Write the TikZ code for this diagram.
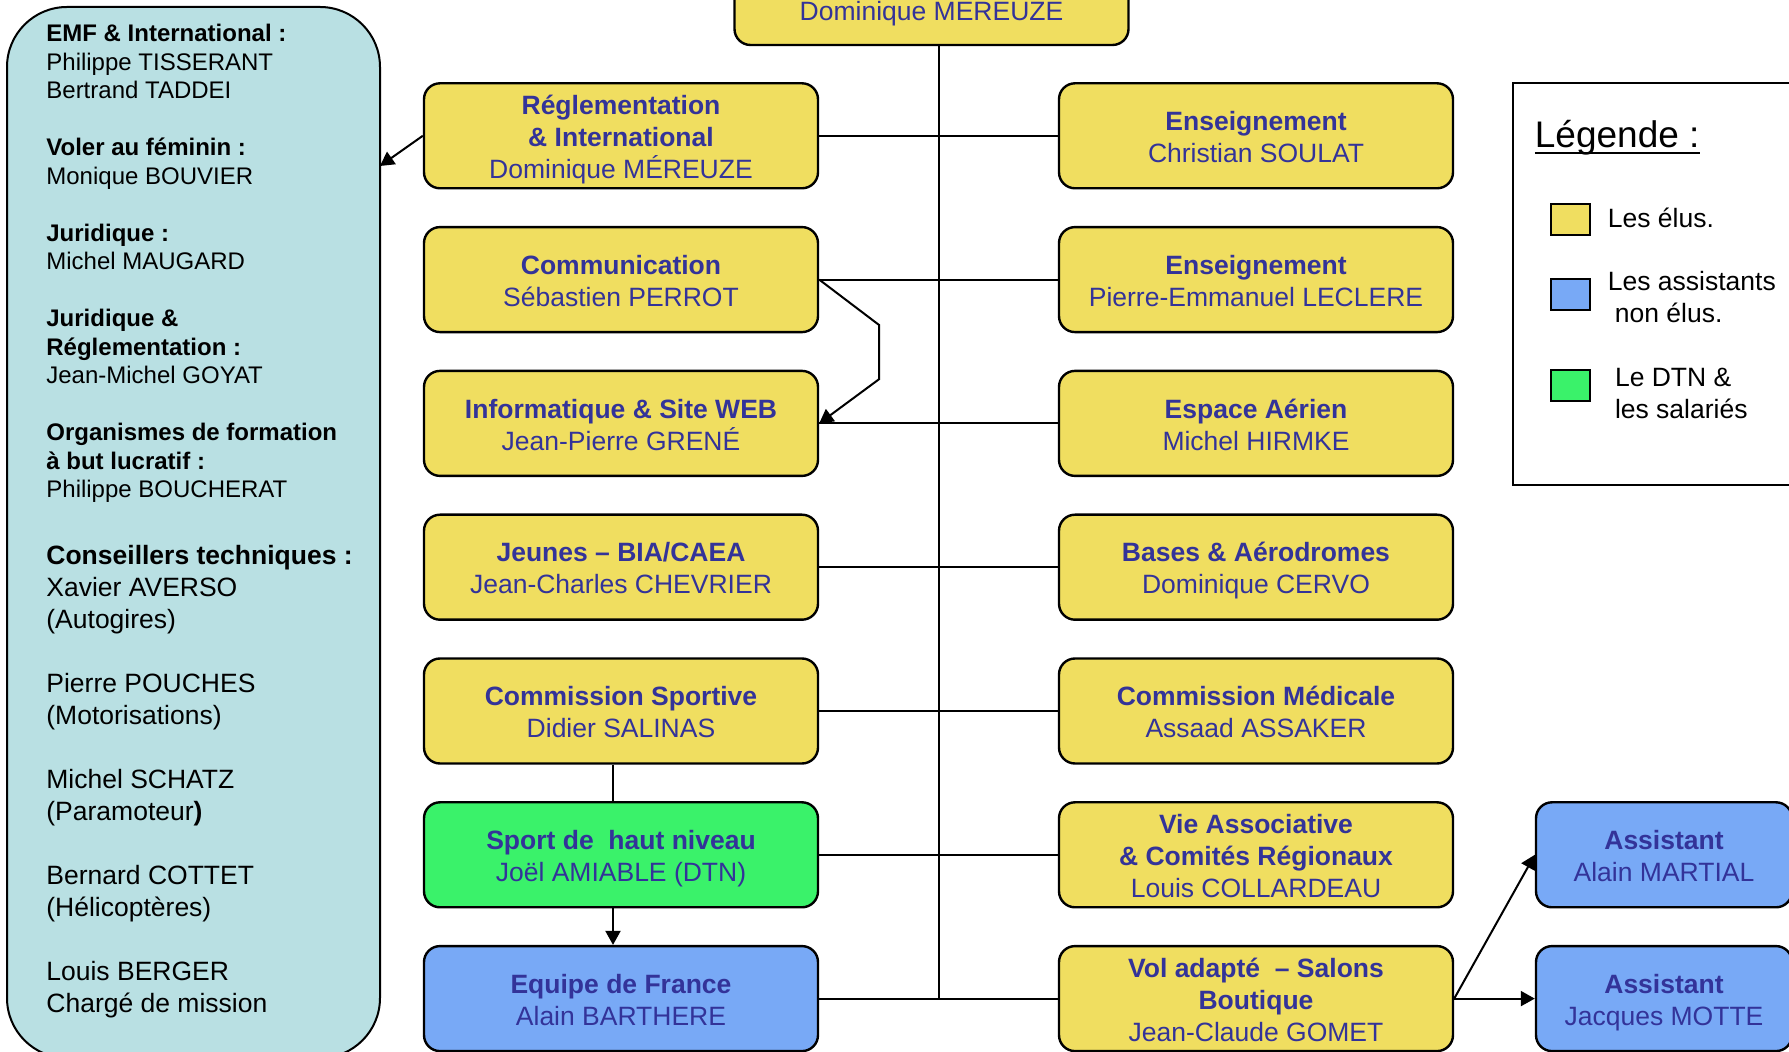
\documentclass[tikz,border=0pt]{standalone}
\usepackage{fontspec}
\setmainfont{Liberation Sans}
\usetikzlibrary{arrows.meta}

\definecolor{elu}{RGB}{240,222,96}
\definecolor{nonelu}{RGB}{120,169,246}
\definecolor{salarie}{RGB}{58,242,106}
\definecolor{cadre}{RGB}{185,224,227}
\definecolor{nom}{RGB}{51,51,153}

\newcommand{\boxfont}{\fontsize{13.25}{16}\selectfont}
\newcommand{\bxhaut}{\rule{0pt}{13.8pt}}
\newcommand{\bxbas}{\rule[-3pt]{0pt}{3pt}}
\newcommand{\ulegende}[1]{\setbox0\hbox{#1}\rlap{\rule[-3pt]{\wd0}{1.1pt}}\box0}

\begin{document}
\begin{tikzpicture}[x=0.5pt,y=-0.5pt,>={Triangle[length=7pt,width=7.5pt]},
	orgbox/.style={draw,line width=1.2pt,rounded corners=8pt,minimum width=197pt,minimum height=52.5pt,inner sep=0pt,align=center,text=nom,font=\boxfont},
	elubox/.style={orgbox,fill=elu},
	assbox/.style={orgbox,fill=nonelu,minimum width=128pt},
	dtnbox/.style={orgbox,fill=salarie},
	swatch/.style={draw,line width=1pt,minimum width=19.3pt,minimum height=15.5pt,inner sep=0pt},
	trait/.style={line width=1pt}]
		\useasboundingbox (0,0) rectangle (1789,1052);
		%\draw[help lines] (0,0) grid (1789,1052);
		
		% bloc de gauche
		\node[draw,line width=1pt,fill=cadre,rounded corners=30pt,minimum width=186.5pt,minimum height=525.5pt,inner sep=0pt] (panel) at (193.5,532.5) {};
		\node[anchor=north west,align=left,inner sep=0pt,font=\fontsize{12}{14.25}\selectfont] (missions) at (46,19.5) {\rule{0pt}{11pt}\textbf{EMF \& International :}\\Philippe TISSERANT\\Bertrand TADDEI\\[14.25pt]\textbf{Voler au féminin :}\\Monique BOUVIER\\[14.25pt]\textbf{Juridique :}\\Michel MAUGARD\\[14.25pt]\textbf{Juridique \&}\\\textbf{Réglementation :}\\Jean-Michel GOYAT\\[14.25pt]\textbf{Organismes de formation}\\\textbf{à but lucratif :}\\Philippe BOUCHERAT};
		\node[anchor=north west,align=left,inner sep=0pt,font=\boxfont] (conseillers) at (46,540) {\rule{0pt}{12pt}\textbf{Conseillers techniques :}\\Xavier AVERSO\\(Autogires)\\[16pt]Pierre POUCHES\\(Motorisations)\\[16pt]Michel SCHATZ\\(Paramoteur\textbf{)}\\[16pt]Bernard COTTET\\(Hélicoptères)\\[16pt]Louis BERGER\\Chargé de mission};
		
		% organigramme
		\node[elubox] (pres) at (931.5,-7.5) {~\\[14.7pt]Dominique MEREUZE};
		\node[elubox] (regl) at (621,135.8) {\bxhaut\textbf{Réglementation}\\\textbf{\& International}\\Dominique MÉREUZE\bxbas};
		\node[elubox] (comm) at (621,279.6) {\bxhaut\textbf{Communication}\\Sébastien PERROT\bxbas};
		\node[elubox] (info) at (621,423.4) {\bxhaut\textbf{Informatique \& Site WEB}\\Jean-Pierre GRENÉ\bxbas};
		\node[elubox] (jeunes) at (621,567.2) {\bxhaut\textbf{Jeunes – BIA/CAEA}\\Jean-Charles CHEVRIER\bxbas};
		\node[elubox] (sportive) at (621,711) {\bxhaut\textbf{Commission Sportive}\\Didier SALINAS\bxbas};
		\node[dtnbox] (hautniv) at (621,854.8) {\bxhaut\textbf{Sport de~ haut niveau}\\Joël AMIABLE (DTN)\bxbas};
		\node[assbox,minimum width=197pt] (equipe) at (621,998.6) {\bxhaut\textbf{Equipe de France}\\Alain BARTHERE\bxbas};
		
		\node[elubox] (ens1) at (1256,135.8) {\bxhaut\textbf{Enseignement}\\Christian SOULAT\bxbas};
		\node[elubox] (ens2) at (1256,279.6) {\bxhaut\textbf{Enseignement}\\Pierre-Emmanuel LECLERE\bxbas};
		\node[elubox] (espace) at (1256,423.4) {\bxhaut\textbf{Espace Aérien}\\Michel HIRMKE\bxbas};
		\node[elubox] (bases) at (1256,567.2) {\bxhaut\textbf{Bases \& Aérodromes}\\Dominique CERVO\bxbas};
		\node[elubox] (medic) at (1256,711) {\bxhaut\textbf{Commission Médicale}\\Assaad ASSAKER\bxbas};
		\node[elubox] (vie) at (1256,854.8) {\bxhaut\textbf{Vie Associative}\\\textbf{\& Comités Régionaux}\\Louis COLLARDEAU\bxbas};
		\node[elubox] (vol) at (1256,998.6) {\bxhaut\textbf{Vol adapté~ – Salons}\\\textbf{Boutique}\\Jean-Claude GOMET\bxbas};
		
		\node[assbox] (ass1) at (1664,854.8) {\bxhaut\textbf{Assistant}\\Alain MARTIAL\bxbas};
		\node[assbox] (ass2) at (1664,998.6) {\bxhaut\textbf{Assistant}\\Jacques MOTTE\bxbas};
		
		\coordinate (jn) at (939,998.6);
		\coordinate (pointe) at (380,166);
		\draw[trait] (pres.south -| jn) -- (jn);
		\draw[trait] (regl.east) -- (ens1.west);
		\draw[trait] (comm.east) -- (ens2.west);
		\draw[trait] (info.east) -- (espace.west);
		\draw[trait] (jeunes.east) -- (bases.west);
		\draw[trait] (sportive.east) -- (medic.west);
		\draw[trait] (hautniv.east) -- (vie.west);
		\draw[trait] (equipe.east) -- (vol.west);
		\draw[->,trait] (comm.east) -- ++(60,45.5) -- ++(0,54) -- (info.east);
		\draw[->,trait] (regl.west) -- (pointe);
		\draw[trait] ([xshift=-4pt]sportive.south) -- ([xshift=-4pt]hautniv.north);
		\draw[->,trait] ([xshift=-4pt]hautniv.south) -- ([xshift=-4pt]equipe.north);
		\draw[->,trait] (vol.east) -- (ass1.west);
		\draw[->,trait] (vol.east) -- (ass2.west);
		
		% legende
		\draw[line width=1pt] (1513,83) rectangle (1800,485);
		\node[anchor=base west,inner sep=0pt,font=\fontsize{18.5}{22}\selectfont] (legtitre) at (1534.5,148) {\ulegende{Légende :}};
		\node[swatch,fill=elu] (sw1) at (1570.3,219.5) {};
		\node[swatch,fill=nonelu] (sw2) at (1570.3,295) {};
		\node[swatch,fill=salarie] (sw3) at (1570.3,385.5) {};
		\node[anchor=west,inner sep=0pt,font=\boxfont] (leg1) at (1607.5,218) {Les élus.};
		\node[anchor=west,align=left,inner sep=0pt,font=\boxfont] (leg2) at (1607.5,297.5) {Les assistants\\\hspace*{3.5pt}non élus.};
		\node[anchor=west,align=left,inner sep=0pt,font=\boxfont] (leg3) at (1614.6,393.5) {Le DTN \&\\les salariés};
\end{tikzpicture}
\end{document}
